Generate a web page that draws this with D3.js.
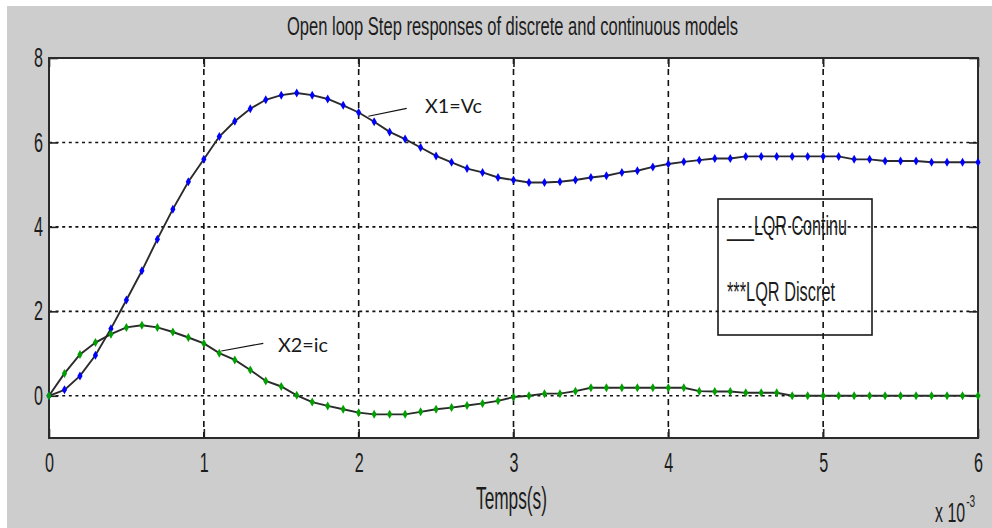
<!DOCTYPE html>
<html>
<head>
<meta charset="utf-8">
<script src="https://cdn.jsdelivr.net/npm/d3@7/dist/d3.min.js"></script>
<style>
  html, body { margin: 0; padding: 0; background: #ffffff; }
  svg { display: block; }
</style>
</head>
<body>
<svg id="chart" width="992" height="528"></svg>
<script>
// ---- data (time in ms, i.e. x 10^-3 s) ----
const times = d3.range(0, 61).map(i => i / 10);
const x1Vc = [0.00, 0.14, 0.47, 0.96, 1.59, 2.27, 2.96, 3.71, 4.42, 5.07,
              5.60, 6.14, 6.50, 6.80, 7.01, 7.12, 7.17, 7.12, 7.03, 6.88,
              6.71, 6.49, 6.25, 6.08, 5.88, 5.68, 5.53, 5.38, 5.29, 5.17,
              5.11, 5.05, 5.05, 5.07, 5.11, 5.17, 5.21, 5.29, 5.33, 5.42,
              5.49, 5.54, 5.58, 5.62, 5.62, 5.67, 5.67, 5.67, 5.67, 5.67,
              5.67, 5.67, 5.60, 5.60, 5.56, 5.56, 5.56, 5.53, 5.53, 5.53, 5.53];
const x2Ic = [0.00, 0.53, 0.98, 1.26, 1.46, 1.62, 1.67, 1.62, 1.51, 1.38,
              1.24, 1.01, 0.85, 0.61, 0.35, 0.22, 0.01, -0.15, -0.24, -0.32,
              -0.40, -0.44, -0.44, -0.44, -0.38, -0.32, -0.28, -0.23, -0.18, -0.12,
              -0.03, 0.00, 0.05, 0.05, 0.11, 0.19, 0.19, 0.19, 0.19, 0.19,
              0.19, 0.19, 0.11, 0.10, 0.10, 0.07, 0.07, 0.07, 0.00, 0.00,
              0.00, 0.00, 0.00, 0.00, 0.00, 0.00, 0.00, 0.00, 0.00, 0.00, 0.00];
const xTicks = [0, 1, 2, 3, 4, 5, 6];
const yTicks = [0, 2, 4, 6, 8];
const yGrid = [0, 2, 4, 6];
const xGrid = [1, 2, 3, 4, 5];
const seriesNames = ["X1=Vc", "X2=ic"];
const seriesColors = ["#0000ff", "#00a000"];
const titleText = "Open loop Step responses of discrete and continuous models";
const xLabel = "Temps(s)";
const legendLines = ["___LQR Continu", "***LQR Discret"];

// ---- layout ----
const svg = d3.select("#chart");
const L = 49, R = 978, T = 58, B = 438;
const x = d3.scaleLinear().domain([0, 6]).range([L, R]);
const y = d3.scaleLinear().domain([-1, 8]).range([B, T]);
const FONT = "'Liberation Sans', Arial, sans-serif";
const TXT = "#1c1c1c";

// figure background
svg.append("rect").attr("x", 7).attr("y", 6).attr("width", 985).attr("height", 522).attr("fill", "#cdcdcd");
// plot area
svg.append("rect").attr("x", L).attr("y", T).attr("width", R - L).attr("height", B - T).attr("fill", "#ffffff");

// grid
const grid = svg.append("g");
grid.selectAll("line.h").data(yGrid).join("line")
  .attr("x1", L).attr("x2", R).attr("y1", d => y(d)).attr("y2", d => y(d))
  .attr("stroke", "#111").attr("stroke-width", 1.6).attr("stroke-dasharray", "3,3.6");
grid.selectAll("line.v").data(xGrid).join("line")
  .attr("y1", T).attr("y2", B).attr("x1", d => x(d)).attr("x2", d => x(d))
  .attr("stroke", "#111").attr("stroke-width", 1.6).attr("stroke-dasharray", "6,5");

// axes (ticks inward)
const axL = svg.append("g").attr("transform", `translate(${L},0)`)
  .call(d3.axisLeft(y).tickValues(yTicks).tickSizeInner(-9).tickSizeOuter(0).tickPadding(6).tickFormat(d3.format("d")));
const axR = svg.append("g").attr("transform", `translate(${R},0)`)
  .call(d3.axisRight(y).tickValues(yTicks).tickSizeInner(-9).tickSizeOuter(0).tickFormat(""));
const axB = svg.append("g").attr("transform", `translate(0,${B})`)
  .call(d3.axisBottom(x).tickValues(xTicks).tickSizeInner(-9).tickSizeOuter(0).tickPadding(15).tickFormat(d3.format("d")));
const axT = svg.append("g").attr("transform", `translate(0,${T})`)
  .call(d3.axisTop(x).tickValues(xTicks).tickSizeInner(-9).tickSizeOuter(0).tickFormat(""));
[axL, axR, axB, axT].forEach(a => {
  a.select(".domain").remove();
  a.selectAll(".tick line").attr("stroke", "#222").attr("stroke-width", 1.6);
  a.selectAll("text").attr("font-family", FONT).attr("font-size", 27).attr("fill", TXT)
    .attr("textLength", 9).attr("lengthAdjust", "spacingAndGlyphs");
});

// frame
svg.append("rect").attr("x", L).attr("y", T).attr("width", R - L).attr("height", B - T)
  .attr("fill", "none").attr("stroke", "#2a2a2a").attr("stroke-width", 2);

// curves
const line = d3.line().x((d, i) => x(times[i])).y(d => y(d));
const diamond = "M0,-4.5L2.6,0L0,4.5L-2.6,0Z";
[x1Vc, x2Ic].forEach((vals, k) => {
  svg.append("path").datum(vals).attr("d", line)
    .attr("fill", "none").attr("stroke", "#2b2b2b").attr("stroke-width", 1.9);
  svg.append("g").selectAll("path").data(vals).join("path")
    .attr("d", diamond)
    .attr("transform", (d, i) => `translate(${x(times[i])},${y(d)})`)
    .attr("fill", seriesColors[k]).attr("stroke", "none");
});

// title
svg.append("text").attr("x", 287).attr("y", 35).text(titleText)
  .attr("font-family", FONT).attr("font-size", 25).attr("fill", TXT)
  .attr("textLength", 451).attr("lengthAdjust", "spacingAndGlyphs");

// x label
svg.append("text").attr("x", 476).attr("y", 509).text(xLabel)
  .attr("font-family", FONT).attr("font-size", 32).attr("fill", TXT)
  .attr("textLength", 71).attr("lengthAdjust", "spacingAndGlyphs");
// exponent "x 10^-3" as one text, horizontally condensed
const expo = svg.append("text").attr("transform", "translate(935,522) scale(0.59,1)")
  .attr("font-family", FONT).attr("font-size", 27).attr("fill", TXT);
expo.append("tspan").text("x 10");
expo.append("tspan").attr("dx", 2).attr("dy", -15).attr("font-size", 17).text("-3");

// annotations
const ann = [
  {name: seriesNames[0], tx: 425, ty: 113, w: 57, p1: [2.05, 6.62], p2: [406.7, 108.3]},
  {name: seriesNames[1], tx: 278, ty: 352, w: 50, p1: [1.1, 1.06], p2: [263.3, 343.3]}
];
ann.forEach(a => {
  svg.append("line").attr("x1", x(a.p1[0]) + 2).attr("y1", y(a.p1[1]))
    .attr("x2", a.p2[0]).attr("y2", a.p2[1]).attr("stroke", "#111").attr("stroke-width", 1.2);
  svg.append("text").attr("x", a.tx).attr("y", a.ty).text(a.name)
    .attr("font-family", "Lato, 'Open Sans', sans-serif").attr("font-size", 20).attr("fill", "#1a1a1a")
    .attr("textLength", a.w).attr("lengthAdjust", "spacingAndGlyphs");
});

// legend box
svg.append("rect").attr("x", 718).attr("y", 199).attr("width", 154).attr("height", 136)
  .attr("fill", "none").attr("stroke", "#1a1a1a").attr("stroke-width", 1.6);
svg.append("text").attr("x", 727).attr("y", 235).text(legendLines[0])
  .attr("font-family", FONT).attr("font-size", 27).attr("fill", TXT)
  .attr("textLength", 120).attr("lengthAdjust", "spacingAndGlyphs");
svg.append("text").attr("x", 727).attr("y", 301).text(legendLines[1])
  .attr("font-family", FONT).attr("font-size", 27).attr("fill", TXT)
  .attr("textLength", 108).attr("lengthAdjust", "spacingAndGlyphs");
</script>
</body>
</html>
